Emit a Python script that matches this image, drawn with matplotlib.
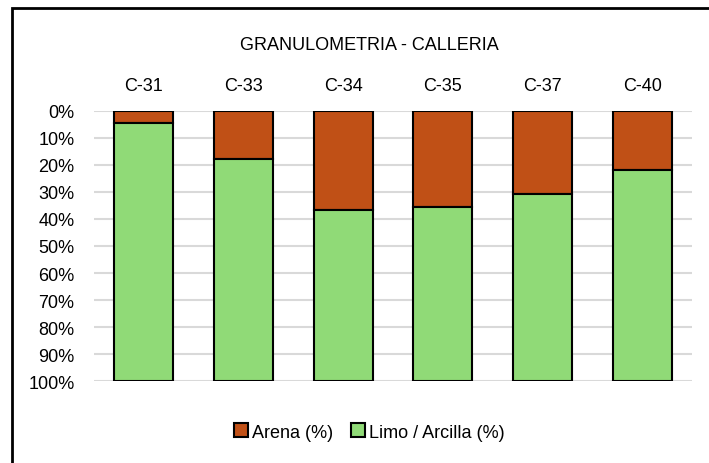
import matplotlib.pyplot as plt
import matplotlib.patches as mpatches
from matplotlib.ticker import PercentFormatter

# granulometria por calicata (%)
calicatas = ["C-31", "C-33", "C-34", "C-35", "C-37", "C-40"]
arena = [4.5, 18.0, 36.8, 35.7, 30.7, 22.0]
limo_arcilla = [95.5, 82.0, 63.2, 64.3, 69.3, 78.0]

c_arena = "#C05016"
c_limo = "#90DA77"

plt.rcParams['font.family'] = ['Liberation Sans Narrow', 'Liberation Sans', 'DejaVu Sans']
fs = 13

fig = plt.figure(figsize=(7.09, 4.64), dpi=100)
ax = fig.add_axes([94/709, 81.7/464, 598/709, 270.6/464])

x = range(len(calicatas))
ax.bar(x, arena, width=0.59, color=c_arena, edgecolor="black", linewidth=1.5, zorder=3)
ax.bar(x, limo_arcilla, bottom=arena, width=0.59, color=c_limo, edgecolor="black",
       linewidth=1.5, zorder=3)

ax.set_ylim(100, 0)
ax.set_xlim(-0.5, len(calicatas) - 0.5)
ax.set_yticks(range(0, 101, 10))
ax.yaxis.set_major_formatter(PercentFormatter(decimals=0))
ax.xaxis.tick_top()
ax.set_xticks(list(x))
ax.set_xticklabels(calicatas)
ax.tick_params(axis="both", length=0, labelsize=fs)
ax.tick_params(axis="x", pad=12)
ax.tick_params(axis="y", pad=14)
ax.yaxis.grid(True, color="#d9d9d9", linewidth=1.5, zorder=0)
for s in ax.spines.values():
    s.set_visible(False)

fig.text(369/709, 1 - 45/464, "GRANULOMETRIA - CALLERIA", ha="center", va="center", fontsize=fs)

handles = [mpatches.Patch(facecolor=c_arena, edgecolor="black", linewidth=1.5, label="Arena (%)"),
           mpatches.Patch(facecolor=c_limo, edgecolor="black", linewidth=1.5, label="Limo / Arcilla (%)")]
fig.legend(handles=handles, loc="center", bbox_to_anchor=(369/709, 1 - 433/464), ncol=2,
           frameon=False, fontsize=fs, handlelength=0.8, handleheight=0.8,
           handletextpad=0.2, columnspacing=1.0)

# marco del grafico
fig.patches.append(mpatches.Rectangle((12/709, -0.1), 1.2, 1 - 9/464 + 0.1, transform=fig.transFigure,
                                      fill=False, edgecolor="black", linewidth=2))

fig.savefig("out.png", dpi=100)
